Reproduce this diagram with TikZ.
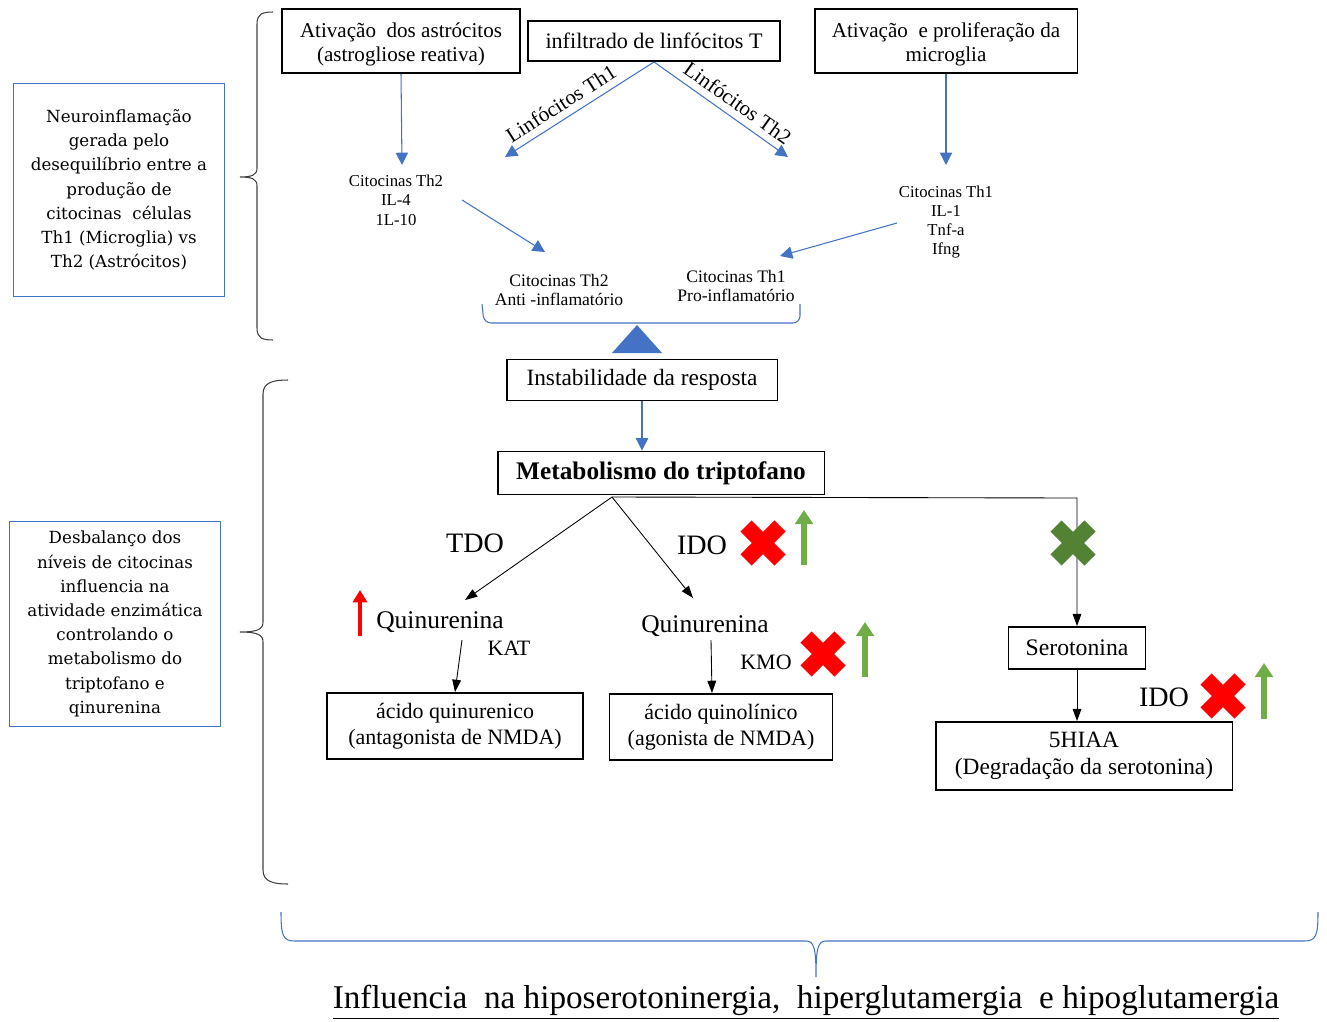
\documentclass[tikz,border=0pt]{standalone}
\usepackage{fontspec}
\setmainfont{Liberation Serif}
\newfontfamily\wideserif{DejaVu Serif}
\usetikzlibrary{arrows.meta}
\definecolor{wblue}{RGB}{68,114,196}
\definecolor{wgreen}{RGB}{112,173,71}
\definecolor{dgreen}{RGB}{84,130,53}
\definecolor{bracegray}{RGB}{64,64,64}
\tikzset{
    box/.style={draw, line width=1.1pt, align=center, inner sep=2pt, font=\fontsize{12}{13.6}\selectfont},
    sidebox/.style={draw=wblue, line width=1.1pt, align=center, font=\wideserif\fontsize{9.5}{13.8}\selectfont},
    small/.style={align=center, font=\fontsize{9.5}{11}\selectfont},
    enz/.style={font=\fontsize{16}{18}\selectfont},
    enzs/.style={font=\fontsize{12.5}{14}\selectfont},
    quin/.style={font=\fontsize{14.5}{16}\selectfont},
    lymph/.style={sloped, above=3pt, font=\fontsize{12}{13}\selectfont, inner sep=1pt},
    bedge/.style={-{Triangle[length=7pt,width=7pt]}, draw=wblue, line width=0.6pt},
    dedge/.style={-{Triangle[length=7pt,width=5pt]}, draw=black, line width=0.5pt},
    upg/.style={-{Triangle[length=8pt,width=10pt]}, line width=3pt, draw=wgreen},
    upr/.style={-{Triangle[length=7pt,width=8pt]}, line width=2.4pt, draw=red},
    bracel/.style={draw=bracegray, line width=0.6pt},
}
\newcommand{\bigcross}[3]{\draw[#3, line width=9pt] (#1-17,#2-17) -- (#1+17,#2+17) (#1-17,#2+17) -- (#1+17,#2-17);}

\begin{document}
\begin{tikzpicture}[x=0.02cm, y=-0.02cm]
\useasboundingbox (0,0) rectangle (1327,1021);
% side notes
\node[sidebox, minimum width=4.22cm, minimum height=4.26cm] (neuro) at (119,190) {Neuroinflamação\\gerada pelo\\desequilíbrio entre a\\produção de\\citocinas\ \ células\\Th1 (Microglia) vs\\Th2 (Astrócitos)};
\node[sidebox, minimum width=4.22cm, minimum height=4.1cm] (desb) at (115,624) {Desbalanço dos\\níveis de citocinas\\influencia na\\atividade enzimática\\controlando o\\metabolismo do\\triptofano e\\qinurenina};
\draw[bracel] (273,12) .. controls (262,12) and (257,14) .. (257,24) -- (257,168) .. controls (257,175) and (252,177) .. (240,177) .. controls (252,177) and (257,179) .. (257,186) -- (257,328) .. controls (257,338) and (262,340) .. (273,340);
\draw[bracel] (288,380) .. controls (274,380) and (263,382) .. (263,394) -- (263,622) .. controls (263,629) and (258,632) .. (240,632) .. controls (258,632) and (263,635) .. (263,642) -- (263,870) .. controls (263,882) and (274,884) .. (288,884);

% top row
\node[box, minimum width=4.76cm, minimum height=1.28cm] (astro) at (401,41) {\rule{0pt}{12.5pt}Ativação\ \ dos astrócitos\\(astrogliose reativa)};
\node[box, font=\fontsize{12.6}{14}\selectfont, minimum width=5.04cm, minimum height=0.8cm] (infil) at (654,41) {infiltrado de linfócitos T};
\node[box, minimum width=5.26cm, minimum height=1.28cm] (micro) at (946,41) {\rule{0pt}{12.5pt}Ativação\ \ e proliferação da\\microglia};
\node[small] (citth2) at (396,200) {Citocinas Th2\\IL-4\\1L-10};
\node[small] (citth1) at (946,222) {Citocinas Th1\\IL-1\\Tnf-a\\Ifng};
\node[small, font=\fontsize{10}{11}\selectfont] (antiinf) at (559,290) {Citocinas Th2\\Anti -inflamatório};
\node[small, font=\fontsize{10}{11}\selectfont] (proinf) at (736,286) {Citocinas Th1\\Pro-inflamatório};
\coordinate (th1end) at (505,157);
\coordinate (th2end) at (788,157);
\coordinate (antiend) at (545,252);
\coordinate (proend) at (780,256);
\draw[bedge] (infil.south) -- node[lymph, pos=0.57] {Linfócitos Th1} (th1end);
\draw[bedge] (infil.south) -- node[lymph, pos=0.56] {Linfócitos Th2} (th2end);
\draw[bedge] (astro.south) -- (402,165);
\draw[bedge] (micro.south) -- (946,165);
\draw[bedge] (462,200) -- (antiend);
\draw[bedge] (897,223) -- (proend);
% balance
\draw[wblue, line width=0.6pt, rounded corners=4pt] (482,304) -- (484,323) -- (800,323) -- (800,304);
\fill[wblue] (612,353) -- (637,325) -- (662,353) -- cycle;

% tryptophan part
\node[box, font=\fontsize{13.3}{15}\selectfont, minimum width=5.42cm, minimum height=0.82cm] (instab) at (642,380) {Instabilidade da resposta};
\node[box, font=\fontsize{14.4}{17}\selectfont\bfseries, minimum width=6.54cm, minimum height=0.86cm] (metab) at (661,473) {Metabolismo do triptofano};
\draw[bedge] (instab.south) -- (instab.south |- metab.north);
\coordinate (split) at (612,497);
\node[enz] (tdo) at (475,543) {TDO};
\node[enz] (ido1) at (702,545) {IDO};
\node[quin] (quin1) at (440,622) {Quinurenina};
\node[enzs] (kat) at (509,648) {KAT};
\node[quin] (quin2) at (705,626) {Quinurenina};
\node[enzs] (kmo) at (766,662) {KMO};
\node[box, font=\fontsize{12.5}{14.7}\selectfont, minimum width=5.12cm, minimum height=1.32cm] (acqr) at (455,726) {ácido quinurenico\\(antagonista de NMDA)};
\node[box, font=\fontsize{12.5}{14.7}\selectfont, minimum width=4.46cm, minimum height=1.32cm] (acql) at (721,727) {ácido quinolínico\\(agonista de NMDA)};
\node[box, font=\fontsize{13.5}{15}\selectfont, minimum width=2.74cm, minimum height=0.84cm] (sero) at (1077,648) {Serotonina};
\node[enz] (ido2) at (1164,697) {IDO};
\node[box, font=\fontsize{13.3}{15.3}\selectfont, minimum width=5.94cm, minimum height=1.36cm] (hiaa) at (1084,756) {5HIAA\\(Degradação da serotonina)};
\draw[dedge] (split) -- (465,600);
\draw[dedge] (split) -- (693,598);
\draw[dedge] (split) -- (1077,498) -- (sero.north);
\draw[dedge] (462,640) -- (acqr.north);
\draw[dedge] (711,640) -- (712,693);
\draw[dedge] (sero.south) -- (sero.south |- hiaa.north);
% marks
\draw[upr] (360,636) -- (360,590);
\bigcross{763}{543}{red}
\draw[upg] (804,565) -- (804,510);
\bigcross{1073}{543}{dgreen}
\bigcross{823}{654}{red}
\draw[upg] (865,677) -- (865,622);
\bigcross{1223}{696}{red}
\draw[upg] (1264,719) -- (1264,663);

% bottom
\draw[wblue, line width=0.6pt] (281,912) .. controls (281,936) and (283,941) .. (295,941) -- (806,941) .. controls (814,941) and (816,948) .. (816,977) .. controls (816,948) and (818,941) .. (826,941) -- (1304,941) .. controls (1316,941) and (1318,936) .. (1318,912);
\node[font=\fontsize{18.9}{22}\selectfont] (influ) at (806,1002) {\underline{Influencia\ \ na hiposerotoninergia,\ \ hiperglutamergia\ \ e hipoglutamergia}};
\end{tikzpicture}
\end{document}
